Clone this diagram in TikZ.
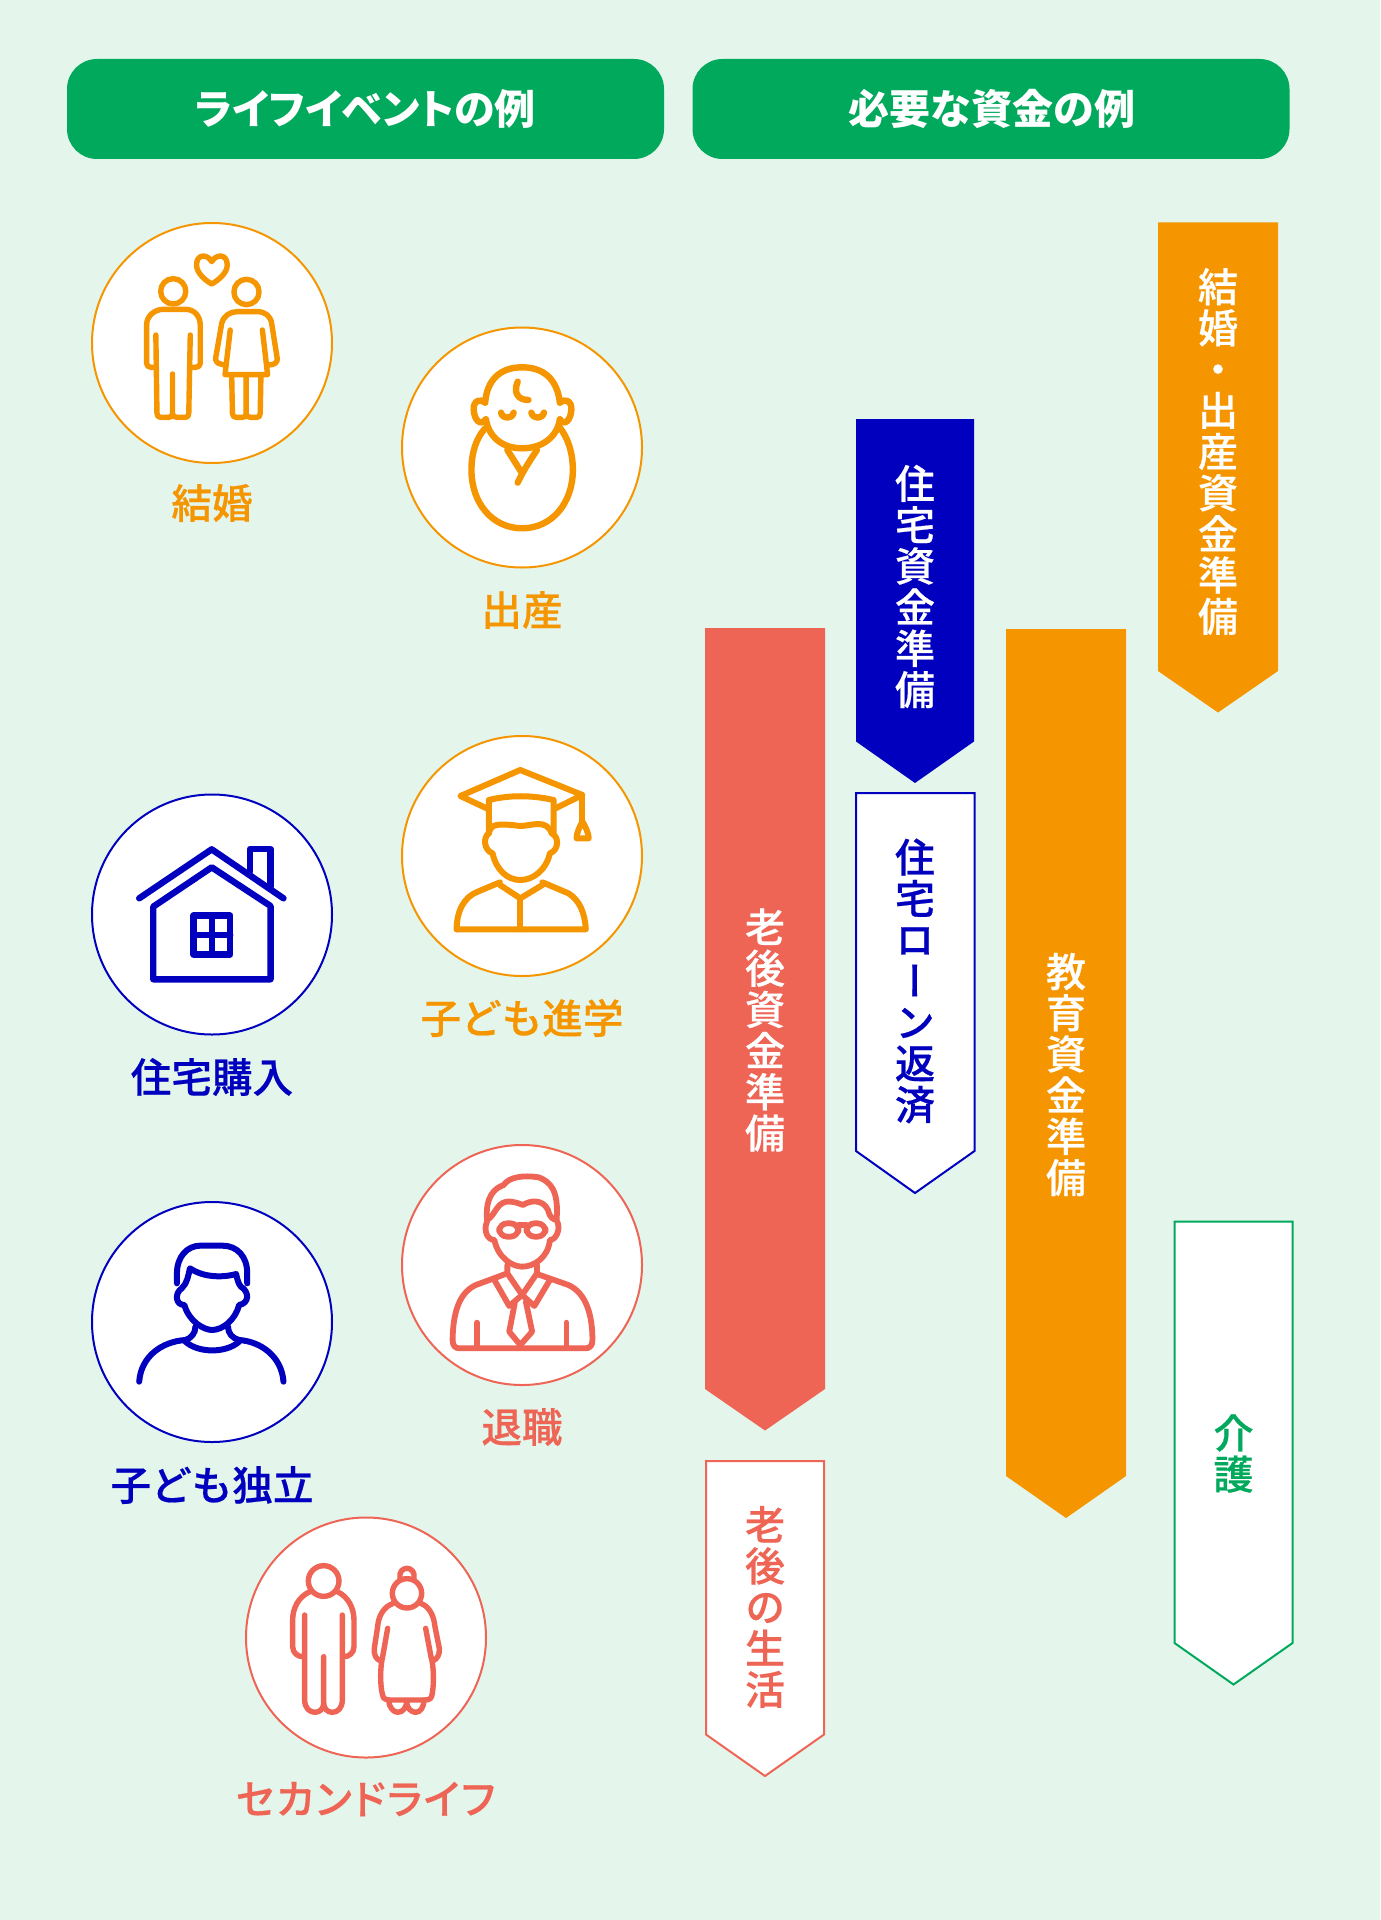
\documentclass[tikz,border=0pt]{standalone}
\usepackage{fontspec}
\setmainfont{Noto Sans CJK JP Medium}[FakeBold=0.5]
\newfontfamily\headfont{Noto Sans CJK JP}
\newfontfamily\tatefont{Noto Sans CJK JP Medium}[RawFeature={+vert}, FakeBold=0.5]
\newfontfamily\palfont{Noto Sans CJK JP}[RawFeature={+palt}]
\newfontfamily\palwidefont{Noto Sans CJK JP Medium}[RawFeature={+palt}, LetterSpace=4, FakeBold=0.5]
\definecolor{mintbg}{HTML}{E4F5EC}
\definecolor{headgreen}{HTML}{00A95C}
\definecolor{lifeorange}{HTML}{F59600}
\definecolor{lifenavy}{HTML}{0000BE}
\definecolor{lifered}{HTML}{EE6555}
\tikzset{
    headbox/.style={fill=headgreen, text=white, rounded corners=15pt, minimum width=298.5pt, minimum height=50pt, font=\headfont\fontsize{20.5}{24}\selectfont},
    lifecircle/.style={circle, draw=#1, fill=white, line width=1pt, minimum size=120pt, inner sep=0pt},
    lifelabel/.style={text=#1, font=\fontsize{20.3}{24}\selectfont},
    bandtext/.style={text=#1, align=center, inner sep=0pt, font=\tatefont\fontsize{20}{20.6}\selectfont},
    bandline/.style={draw=#1, fill=white, line width=1pt},
    iconline/.style={draw=#1, line cap=round, line join=round}
}
\begin{document}
\begin{tikzpicture}[x=0.5pt, y=-0.5pt]
\fill[mintbg] (0,0) rectangle (1380,1920);
\useasboundingbox (0,0) rectangle (1380,1920);

% HEADERS
\node[headbox] (headevent) at (365.5,109) {\palfont\bfseries ライフイベントの例};
\node[headbox] (headmoney) at (991,109) {\bfseries\hspace{1pt}必要な資金の例};

% CIRCLES
\node[lifecircle=lifeorange] (marry) at (212,343) {};
\node[lifelabel=lifeorange] (marrytext) at (212,503) {結婚};
\node[lifecircle=lifeorange] (birth) at (522,447.5) {};
\node[lifelabel=lifeorange] (birthtext) at (522,610) {出産};
\node[lifecircle=lifeorange] (school) at (522,856) {};
\node[lifelabel=lifeorange] (schooltext) at (522,1018) {子ども進学};
\node[lifecircle=lifenavy] (house) at (212,914.5) {};
\node[lifelabel=lifenavy] (housetext) at (212,1077) {住宅購入};
\node[lifecircle=lifenavy] (child) at (212,1322) {};
\node[lifelabel=lifenavy] (childtext) at (212,1485) {子ども独立};
\node[lifecircle=lifered] (retire) at (522,1265) {};
\node[lifelabel=lifered] (retiretext) at (522,1427) {退職};
\node[lifecircle=lifered] (second) at (366,1637.5) {};
\node[lifelabel=lifered] (secondtext) at (365.5,1799) {\palwidefont セカンドライフ};

% COUPLE
\begin{scope}[shift={(80,210)}, xscale=0.37, yscale=0.3333, iconline=lifeorange, line width=2.7pt]
\draw (252,244) ellipse [x radius=34, y radius=38];
\draw (450,246) ellipse [x radius=34, y radius=38];
\draw (205,472) -- (192,472) .. controls (185,472) and (180,467) .. (180,460) -- (180,345) .. controls (180,315) and (205,298) .. (225,298) -- (285,298) .. controls (310,298) and (325,320) .. (325,345) -- (325,460) .. controls (325,467) and (320,472) .. (313,472) -- (300,472);
\draw (205,375) -- (208,610) .. controls (208,618) and (212,622) .. (218,622) -- (240,622) .. controls (246,622) and (250,618) .. (250,612) -- (250,492);
\draw (250,612) .. controls (250,618) and (256,622) .. (262,622) -- (285,622) .. controls (291,622) and (294,618) .. (294,610) -- (298,375);
\draw (390,465) -- (380,462) .. controls (370,460) and (365,452) .. (367,442) -- (383,340) .. controls (388,318) and (405,305) .. (425,305) -- (480,305) .. controls (500,305) and (515,318) .. (518,340) -- (533,445) .. controls (535,457) and (525,465) .. (510,465);
\draw (406,360) -- (392,494) -- (507,494) -- (493,360);
\draw (410,498) -- (412,610) .. controls (412,618) and (416,622) .. (422,622) -- (440,622) .. controls (446,622) and (449,618) .. (449,612) -- (449,498);
\draw (449,612) .. controls (450,618) and (455,622) .. (460,622) -- (478,622) .. controls (484,622) and (487,618) .. (487,610) -- (489,498);
\draw (356,155) .. controls (345,132) and (315,130) .. (315,165) .. controls (315,190) and (340,212) .. (356,222) .. controls (372,212) and (398,190) .. (398,165) .. controls (398,130) and (367,132) .. (356,155) -- cycle;
\end{scope}

% BABY
\begin{scope}[shift={(80,210)}, xscale=0.37, yscale=0.3333, iconline=lifeorange, line width=3.2pt]
\draw (1095,655) .. controls (1070,685) and (1058,730) .. (1058,780) .. controls (1058,880) and (1115,955) .. (1195,955) .. controls (1275,955) and (1332,880) .. (1332,780) .. controls (1332,730) and (1320,685) .. (1295,650);
\draw (1095,578) .. controls (1100,510) and (1135,472) .. (1195,472) .. controls (1255,472) and (1290,510) .. (1297,578);
\draw (1095,578) .. controls (1085,565) and (1062,570) .. (1064,600) .. controls (1066,630) and (1082,650) .. (1097,628);
\draw (1297,578) .. controls (1307,565) and (1330,570) .. (1328,600) .. controls (1326,630) and (1310,650) .. (1297,628);
\draw (1097,628) .. controls (1105,680) and (1140,715) .. (1195,715) .. controls (1250,715) and (1290,680) .. (1297,628);
\draw (1183,515) .. controls (1170,550) and (1185,570) .. (1212,570);
\draw (1138,608) .. controls (1142,628) and (1168,628) .. (1172,608);
\draw (1220,608) .. controls (1224,628) and (1250,628) .. (1254,608);
\draw (1155,720) -- (1192,785);
\draw (1235,720) .. controls (1205,770) and (1195,790) .. (1183,818);
\end{scope}

% GRADUATE
\begin{scope}[shift={(80,720)}, xscale=0.37, yscale=0.3333, iconline=lifeorange, line width=3pt]
\draw (1105,268) -- (1028,228) -- (1190,150) -- (1358,225) -- (1285,265);
\draw (1358,225) -- (1358,305);
\draw (1358,305) .. controls (1350,320) and (1342,340) .. (1342,355) -- (1375,355) .. controls (1375,340) and (1366,320) .. (1358,305) -- cycle;
\draw (1105,340) -- (1105,240) .. controls (1160,225) and (1220,225) .. (1280,240) -- (1280,340);
\draw (1105,340) .. controls (1110,310) and (1130,310) .. (1190,318) .. controls (1220,318) and (1260,295) .. (1275,340);
\draw (1105,340) .. controls (1090,350) and (1090,390) .. (1115,400) .. controls (1125,450) and (1155,480) .. (1190,480) .. controls (1225,480) and (1260,450) .. (1270,400) .. controls (1295,390) and (1295,350) .. (1275,340);
\draw (1018,628) .. controls (1018,570) and (1040,530) .. (1075,515) -- (1135,487);
\draw (1250,487) -- (1320,520) .. controls (1350,540) and (1365,580) .. (1367,628) -- (1018,628);
\draw (1135,495) -- (1190,535) -- (1250,495);
\draw (1190,535) -- (1190,628);
\end{scope}

% HOUSE
\begin{scope}[shift={(80,720)}, xscale=0.37, yscale=0.3333, iconline=lifenavy, line width=3.2pt]
\draw (160,535) -- (356,388) -- (550,535);
\draw (460,455) -- (460,387) -- (515,387) -- (515,500);
\draw (198,560) -- (356,442) -- (515,558) -- (515,778) -- (198,778) -- cycle;
\draw (307,587) rectangle (406,703);
\draw (356,587) -- (356,703);
\draw (307,645) -- (406,645);
\end{scope}

% CHILD
\begin{scope}[shift={(80,1130)}, xscale=0.37, yscale=0.3333, iconline=lifenavy, line width=3pt]
\draw (262,460) -- (262,430) .. controls (262,380) and (290,347) .. (325,347) -- (385,347) .. controls (425,347) and (452,380) .. (452,430) -- (452,460);
\draw (297,415) .. controls (330,440) and (380,445) .. (422,432) .. controls (425,450) and (430,465) .. (435,470) .. controls (458,485) and (458,520) .. (430,525) .. controls (420,570) and (385,600) .. (357,600) .. controls (335,600) and (295,575) .. (282,525) .. controls (258,525) and (255,490) .. (275,475) .. controls (290,460) and (293,435) .. (297,415) -- cycle;
\draw (312,590) .. controls (312,610) and (300,625) .. (285,630);
\draw (400,590) .. controls (400,610) and (412,625) .. (430,630);
\draw (285,635) .. controls (320,670) and (395,670) .. (430,635);
\draw (160,755) .. controls (165,680) and (220,635) .. (285,630);
\draw (430,630) .. controls (490,635) and (545,680) .. (550,755);
\end{scope}

% RETIRE
\begin{scope}[shift={(80,1130)}, xscale=0.37, yscale=0.3333, iconline=lifered, line width=2.9pt]
\draw (1100,270) .. controls (1095,200) and (1120,175) .. (1145,165) .. controls (1160,140) and (1200,135) .. (1240,142) .. controls (1270,155) and (1295,180) .. (1288,270);
\draw (1100,270) .. controls (1125,255) and (1125,210) .. (1165,215) .. controls (1180,217) and (1190,222) .. (1197,225) .. controls (1215,212) and (1250,205) .. (1265,240) .. controls (1270,265) and (1280,268) .. (1288,270);
\draw[rounded corners=4pt] (1133,280) rectangle (1185,320);
\draw[rounded corners=4pt] (1207,280) rectangle (1258,320);
\draw (1185,285) -- (1207,285);
\draw (1100,275) .. controls (1090,300) and (1100,330) .. (1120,330) .. controls (1130,385) and (1170,410) .. (1195,410) .. controls (1225,410) and (1265,385) .. (1270,330) .. controls (1285,330) and (1300,300) .. (1290,275);
\draw (1155,405) -- (1155,430) -- (1195,495) -- (1235,430) -- (1235,405);
\draw (1120,450) -- (1160,528) -- (1195,495) -- (1228,528) -- (1270,450);
\draw (1175,520) -- (1160,605) -- (1190,645) -- (1222,605) -- (1205,515);
\draw (1150,432) -- (1070,465) .. controls (1020,490) and (1008,560) .. (1007,630) .. controls (1007,648) and (1015,655) .. (1025,655) -- (1365,655) .. controls (1378,655) and (1385,648) .. (1385,630) .. controls (1385,560) and (1370,490) .. (1320,465) -- (1235,432);
\draw (1073,578) -- (1073,650);
\draw (1315,578) -- (1315,650);
\end{scope}

% SECOND LIFE
\begin{scope}[shift={(230,1500)}, scale=0.3333, iconline=lifered, line width=2.7pt]
\draw (281,243) circle [radius=46];
\draw (240,275) .. controls (205,290) and (188,325) .. (188,360) -- (188,440) .. controls (188,460) and (205,470) .. (218,470);
\draw (322,275) .. controls (355,290) and (372,325) .. (372,360) -- (372,440) .. controls (372,460) and (355,470) .. (343,470);
\draw (224,345) -- (224,600) .. controls (224,625) and (240,637) .. (255,637) .. controls (270,637) and (281,625) .. (281,610) -- (281,470);
\draw (337,345) -- (337,600) .. controls (337,625) and (322,637) .. (307,637) .. controls (292,637) and (281,625) .. (281,610);
\draw (531,280) circle [radius=44];
\draw (510,235) .. controls (503,195) and (559,195) .. (552,235);
\draw (490,310) .. controls (460,320) and (445,350) .. (443,380) -- (433,445) .. controls (430,465) and (440,478) .. (450,482);
\draw (572,310) .. controls (600,320) and (612,350) .. (615,380) -- (628,445) .. controls (630,465) and (620,478) .. (610,482);
\draw (473,385) -- (458,470) .. controls (450,500) and (450,560) .. (458,585) .. controls (458,597) and (470,600) .. (480,600) -- (585,600) .. controls (600,600) and (605,595) .. (607,580) .. controls (612,550) and (612,500) .. (603,470) -- (587,385);
\draw (476,600) .. controls (476,620) and (490,637) .. (503,637) .. controls (520,637) and (530,620) .. (530,605);
\draw (530,605) .. controls (530,625) and (545,637) .. (557,637) .. controls (572,637) and (582,620) .. (582,600);
\end{scope}

% BANDS
\fill[lifeorange] (1158,222.5) -- (1278,222.5) -- (1278,671) -- (1218,712.5) -- (1158,671) -- cycle;
\node[bandtext=white] (bandmarry) at (1218,451.5) {結\\婚\\・\\出\\産\\資\\金\\準\\備};
\fill[lifenavy] (856,419) -- (974,419) -- (974,741.5) -- (915,783) -- (856,741.5) -- cycle;
\node[bandtext=white] (bandhouse) at (915,586.5) {住\\宅\\資\\金\\準\\備};
\path[bandline=lifenavy] (856,793) -- (974.5,793) -- (974.5,1151) -- (915,1193) -- (856,1151) -- cycle;
\node[bandtext=lifenavy] (bandloan) at (915,981) {住\\宅\\ロ\\ー\\ン\\返\\済};
\fill[lifered] (705,628) -- (825,628) -- (825,1389) -- (765,1430.5) -- (705,1389) -- cycle;
\node[bandtext=white] (bandold) at (765,1030) {老\\後\\資\\金\\準\\備};
\path[bandline=lifered] (706,1461) -- (824,1461) -- (824,1734.5) -- (765,1776) -- (706,1734.5) -- cycle;
\node[bandtext=lifered] (bandlife) at (765,1607) {老\\後\\の\\生\\活};
\fill[lifeorange] (1006,629) -- (1126,629) -- (1126,1476) -- (1066,1518) -- (1006,1476) -- cycle;
\node[bandtext=white] (bandedu) at (1066,1074.5) {教\\育\\資\\金\\準\\備};
\path[bandline=headgreen] (1174.5,1221.5) -- (1292.5,1221.5) -- (1292.5,1643) -- (1233.5,1684.5) -- (1174.5,1643) -- cycle;
\node[bandtext=headgreen] (bandcare) at (1233.5,1453.5) {介\\護};
\end{tikzpicture}
\end{document}
